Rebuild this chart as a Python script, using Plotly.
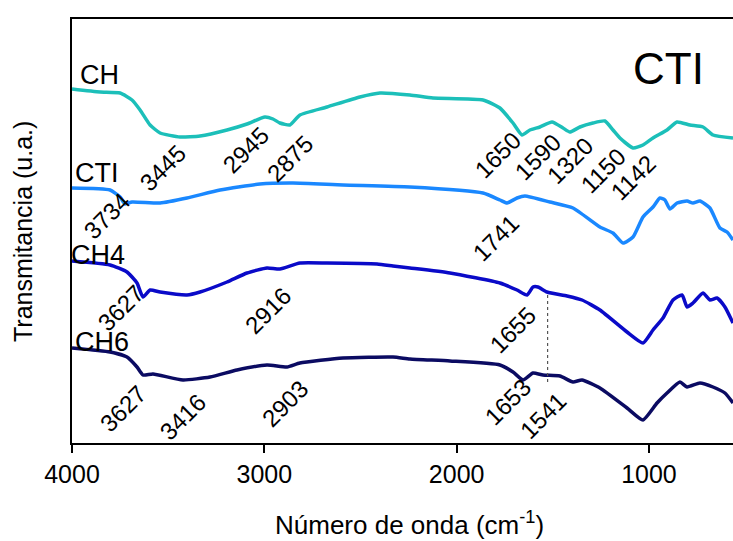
import plotly.graph_objects as go

# ---- data (wavenumber, arbitrary transmittance units) ----
ch_x = [4000, 3854, 3750, 3688, 3646, 3594, 3542, 3438, 3334, 3194, 3090, 2997, 2955, 2919, 2867,
        2815, 2674, 2503, 2399, 2243, 2123, 1863, 1775, 1707, 1660, 1619, 1567, 1504, 1447, 1411,
        1359, 1291, 1229, 1187, 1151, 1083, 1031, 979, 906, 854, 787, 719, 667, 563]
ch_y = [354, 351, 350, 343, 333, 318, 310, 306, 307, 313, 319, 326, 324, 320, 318,
        328, 336, 346, 350, 348, 345, 343, 335, 320, 308, 313, 316, 321, 315, 311,
        316, 320, 322, 313, 305, 295, 298, 305, 313, 321, 318, 316, 308, 305]

cti_x = [4000, 3802, 3750, 3724, 3688, 3542, 3402, 3230, 3023, 2851, 2591, 2243, 1863, 1775, 1738,
         1686, 1645, 1515, 1395, 1255, 1187, 1135, 1083, 1031, 979, 943, 917, 891, 854, 802,
         771, 735, 683, 631, 594, 563]
cti_y = [255, 253, 246, 239, 241, 240, 245, 253, 259, 260, 258, 256, 250, 243, 240,
         245, 247, 241, 235, 216, 210, 200, 206, 226, 236, 245, 243, 234, 240, 242,
         240, 242, 235, 215, 211, 203]

ch4_x = [4000, 3802, 3714, 3662, 3631, 3594, 3542, 3402, 3334, 3194, 3090, 2986, 2919, 2815, 2674,
         2414, 2331, 2243, 2035, 1775, 1686, 1634, 1603, 1577, 1530, 1426, 1348, 1255, 1114, 1031,
         979, 927, 875, 828, 802, 771, 719, 683, 646, 605, 563]
ch4_y = [182, 178, 171, 160, 146, 153, 151, 148, 151, 161, 170, 175, 174, 180, 180,
         179, 177, 175, 170, 160, 153, 148, 156, 156, 151, 147, 143, 133, 111, 100,
         113, 125, 143, 148, 136, 140, 150, 143, 145, 136, 120]

ch6_x = [4000, 3802, 3714, 3662, 3631, 3579, 3423, 3282, 3142, 2986, 2882, 2815, 2591, 2331, 2243,
         2035, 1775, 1707, 1655, 1603, 1551, 1463, 1395, 1348, 1255, 1114, 1031, 958, 906, 839,
         802, 735, 667, 605, 563]
ch6_y = [95, 91, 86, 76, 68, 69, 63, 66, 73, 78, 76, 80, 85, 86, 84,
         82, 78, 71, 63, 70, 68, 67, 61, 63, 55, 35, 23, 40, 50, 61,
         56, 60, 56, 50, 40]

series_names = ["CH", "CTI", "CH4", "CH6"]
series_colors = ["#1cbfb9", "#1a88ff", "#0a0ac8", "#0b0b62"]

# curve labels (left edge x, y)
label_x = [3969, 3995, 4000, 3995]
label_y = [368, 270, 188, 101]

# peak annotations
peak_text = ["3445", "2945", "2875", "3734", "1650", "1590", "1320", "1150", "1142", "1741",
             "3627", "2916", "1655", "3627", "3416", "2903", "1653", "1541"]
peak_x = [3532, 3100, 2867, 3823, 1790, 1582, 1411, 1239, 1083, 1800,
          3750, 2981, 1712, 3735, 3428, 2893, 1738, 1551]
peak_y = [275, 293, 285, 227, 288, 286, 283, 273, 266, 205,
          135, 133, 113, 35, 26, 40, 41, 28]

dot_x = [1527, 1527]
dot_y = [148, 60]

FONT = "Liberation Sans, Arial, sans-serif"

fig = go.Figure()
for xs, ys, name, col in zip([ch_x, cti_x, ch4_x, ch6_x], [ch_y, cti_y, ch4_y, ch6_y],
                             series_names, series_colors):
    fig.add_trace(go.Scatter(x=xs, y=ys, mode="lines", name=name,
                             line=dict(color=col, width=3.5, shape="spline", smoothing=0.5),
                             showlegend=False))

fig.add_trace(go.Scatter(x=dot_x, y=dot_y, mode="lines", showlegend=False,
                         line=dict(color="#555555", width=1.2, dash="dot")))

annotations = []
for t, lx, ly in zip(series_names, label_x, label_y):
    annotations.append(dict(x=lx, y=ly, text=t, showarrow=False, xanchor="left", yanchor="middle",
                            xshift=(-3 if t == "CH4" else 0),
                            font=dict(family=FONT, size=27, color="black")))
for t, px, py in zip(peak_text, peak_x, peak_y):
    annotations.append(dict(x=px, y=py, text=t, showarrow=False, textangle=-45,
                            xanchor="center", yanchor="middle",
                            font=dict(family=FONT, size=24, color="black")))
annotations.append(dict(x=896, y=375, text="CTI", showarrow=False, xanchor="center", yanchor="middle",
                        font=dict(family=FONT, size=44, color="black")))
annotations.append(dict(xref="paper", yref="paper", x=0.51, y=-0.19,
                        text="Número de onda (cm<sup>-1</sup>)", showarrow=False,
                        xanchor="center", yanchor="middle",
                        font=dict(family=FONT, size=26, color="black")))
annotations.append(dict(xref="paper", yref="paper", x=-0.0741, y=0.4976,
                        text="Transmitancia (u.a.)", showarrow=False, textangle=-90,
                        xanchor="center", yanchor="middle",
                        font=dict(family=FONT, size=25, color="black")))

fig.update_layout(
    width=733, height=541,
    margin=dict(l=72, r=0, t=19, b=98),
    paper_bgcolor="white", plot_bgcolor="white",
    annotations=annotations,
    xaxis=dict(range=[4000, 563], tickvals=[4000, 3000, 2000, 1000], ticks="outside", ticklen=8,
               tickwidth=1.5, tickcolor="black", showline=True, linecolor="black", linewidth=1.5,
               mirror=True, showgrid=False, zeroline=False,
               tickfont=dict(family=FONT, size=25, color="black")),
    yaxis=dict(range=[0, 424], showline=True, linecolor="black", linewidth=1.5,
               showticklabels=False, ticks="", showgrid=False, zeroline=False),
)

fig.write_html("out.html")
